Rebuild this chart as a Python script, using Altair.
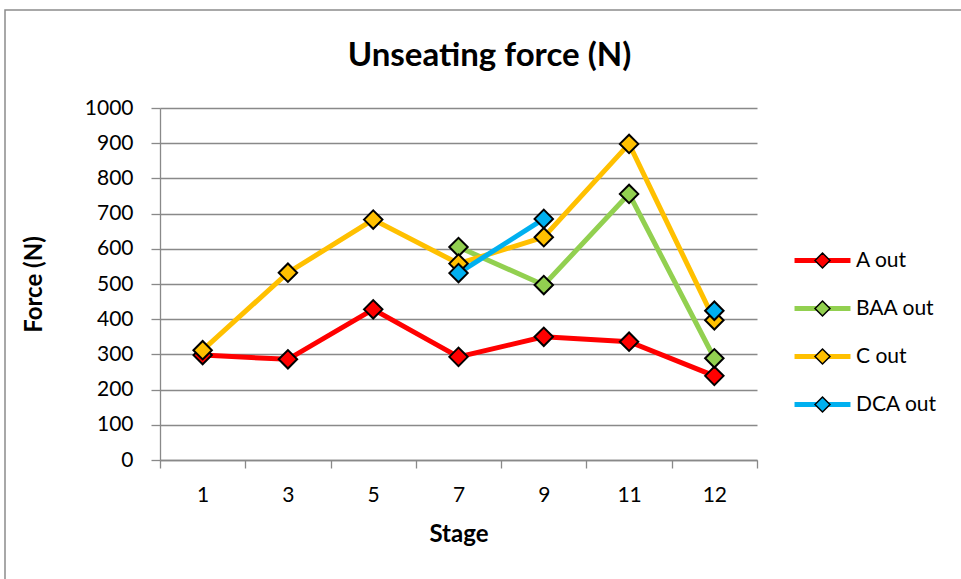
import altair as alt
import pandas as pd

# Stage categories along the x axis
stages = ["1", "3", "5", "7", "9", "11", "12"]

# Unseating force per stage (N); None where a series has no measurement
a_out = [298, 286, 428, 293, 350, 336, 239]
baa_out = [None, None, None, 605, 497, 756, 289]
c_out = [312, 532, 683, 558, 633, 898, 397]
dca_out = [None, None, None, 531, 685, None, 424]

series_names = ["A out", "BAA out", "C out", "DCA out"]
series_colors = ["#FF0000", "#92D050", "#FFC000", "#00B0F0"]
y_ticks = list(range(0, 1001, 100))

rows = []
for name, values in zip(series_names, [a_out, baa_out, c_out, dca_out]):
    for i, (stage, v) in enumerate(zip(stages, values)):
        rows.append({"series": name, "stage": stage, "idx": i, "force": v})
df = pd.DataFrame(rows)

FONT = "Lato"
GRID = "#898989"

x_enc = alt.X(
    "stage:N",
    sort=stages,
    scale=alt.Scale(type="band", paddingInner=0, paddingOuter=0),
    axis=alt.Axis(
        title="Stage",
        labelAngle=0,
        labelFont=FONT,
        labelFontSize=21,
        labelColor="black",
        labelPadding=16,
        tickBand="extent",
        tickSize=8,
        tickColor=GRID,
        tickWidth=1.3,
        domainColor=GRID,
        domainWidth=1.3,
        grid=False,
        titleFont=FONT,
        titleFontSize=24,
        titleFontWeight="bold",
        titleColor="black",
        titlePadding=17,
    ),
)
y_enc = alt.Y(
    "force:Q",
    scale=alt.Scale(domain=[0, 1000], nice=False),
    axis=alt.Axis(
        title="Force (N)",
        values=y_ticks,
        format="d",
        labelFont=FONT,
        labelFontSize=21,
        labelColor="black",
        labelPadding=18,
        tickSize=9,
        tickColor=GRID,
        tickWidth=1.3,
        domainColor=GRID,
        domainWidth=1.3,
        grid=True,
        gridColor=GRID,
        gridWidth=1.3,
        titleFont=FONT,
        titleFontSize=24,
        titleFontWeight="bold",
        titleColor="black",
        titlePadding=38,
    ),
)

# Outer frame around the whole figure
frame = alt.Chart(pd.DataFrame({"frame": [0]})).mark_rect(
    fill="transparent", stroke="#8C8C8C", strokeWidth=1.5
).encode(
    x=alt.value(-155), x2=alt.value(830), y=alt.value(-98), y2=alt.value(500)
)

lines = alt.Chart(df).mark_line(
    strokeWidth=5, invalid="break-paths-show-domains"
).encode(
    x=x_enc,
    y=y_enc,
    order=alt.Order("idx:Q"),
    stroke=alt.Stroke(
        "series:N",
        scale=alt.Scale(domain=series_names, range=series_colors),
        legend=alt.Legend(
            title=None,
            orient="none",
            legendX=652,
            legendY=142,
            padding=0,
            symbolType="M-3.73,0H3.73",
            symbolSize=225,
            symbolStrokeWidth=5,
            symbolFillColor="transparent",
            labelFont=FONT,
            labelFontSize=21,
            labelColor="black",
            labelOffset=23,
            rowPadding=26,
        ),
    ),
)

points = alt.Chart(df).transform_calculate(key="datum.series").mark_point(
    shape="diamond", filled=True, size=340, stroke="black", strokeWidth=2, opacity=1
).encode(
    x=x_enc,
    y=y_enc,
    fill=alt.Fill(
        "key:N",
        scale=alt.Scale(domain=series_names, range=series_colors),
        legend=alt.Legend(
            title=None,
            orient="none",
            legendX=652,
            legendY=142,
            padding=0,
            symbolType="diamond",
            symbolSize=225,
            symbolStrokeColor="black",
            symbolStrokeWidth=1.5,
            symbolOpacity=1,
            labelFont=FONT,
            labelFontSize=21,
            labelOpacity=0,
            labelOffset=23,
            rowPadding=26,
        ),
    ),
)

chart = alt.layer(frame, lines, points).resolve_legend(
    stroke="independent", fill="independent"
).properties(
    width=597,
    height=352,
    padding={"left": 160, "top": 108, "right": 204, "bottom": 119},
    autosize=alt.AutoSizeParams(type="none"),
    title=alt.TitleParams(
        "Unseating force (N)",
        font=FONT,
        fontSize=33,
        fontWeight="bold",
        color="black",
        anchor="middle",
        frame="group",
        baseline="alphabetic",
        dx=31,
        offset=-90,
    ),
    background="white",
).configure_view(stroke=None)

chart.save("out.html", embed_options={"renderer": "svg", "actions": False})
